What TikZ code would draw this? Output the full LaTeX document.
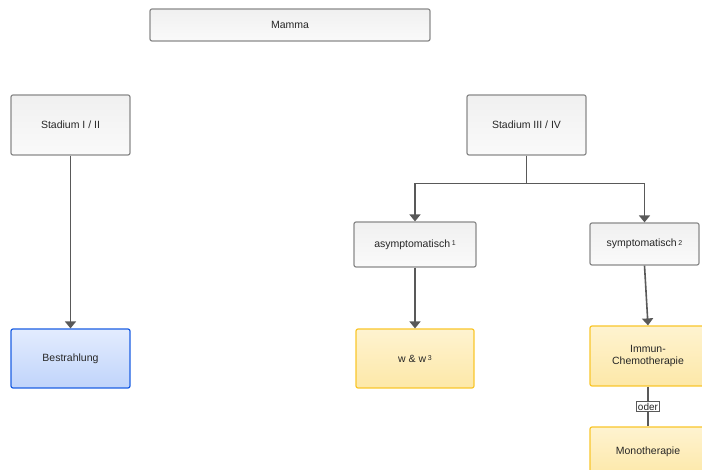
\documentclass[tikz,border=0pt]{standalone}
\usepackage{fontspec}
\setmainfont{Liberation Sans}
\usepackage{tikz}
\usetikzlibrary{positioning, arrows.meta}

\definecolor{linegray}{HTML}{595959}
\definecolor{boxgray}{HTML}{8A8A8A}
\definecolor{graytop}{HTML}{F0F0F0}
\definecolor{graybot}{HTML}{FAFAFA}
\definecolor{bluedraw}{HTML}{1C5FE3}
\definecolor{bluetop}{HTML}{E3ECFE}
\definecolor{bluebot}{HTML}{C0D4FB}
\definecolor{yellowdraw}{HTML}{F9C62B}
\definecolor{yellowtop}{HTML}{FEF3D0}
\definecolor{yellowbot}{HTML}{FDE8A8}

\newcommand{\fn}[1]{\,{\fontsize{7}{8}\selectfont\raisebox{0.45ex}{#1}}}

\begin{document}
\begin{tikzpicture}[x=1pt, y=-1pt,
    every node/.style={font=\fontsize{10.5}{12.5}\selectfont, text=black!85},
    graybox/.style={draw=boxgray, line width=1.2pt, rounded corners=2pt,
        top color=graytop, bottom color=graybot, inner sep=0pt},
    bluebox/.style={draw=bluedraw, line width=1.2pt, rounded corners=2pt,
        top color=bluetop, bottom color=bluebot, inner sep=0pt},
    yellowbox/.style={draw=yellowdraw, line width=1.2pt, rounded corners=2pt,
        top color=yellowtop, bottom color=yellowbot, inner sep=0pt, align=center},
    arr/.style={draw=linegray, line width=1.6pt, -{Triangle[width=11pt,length=7pt]}},
    link/.style={draw=linegray, line width=1.6pt}
    ]
\useasboundingbox (0,0) rectangle (702,470);

% top row
\node[graybox, minimum width=280, minimum height=32] (mamma) at (290,25) {Mamma};
\node[graybox, minimum width=119, minimum height=60] (stI) at (70.5,125) {Stadium I / II};
\node[graybox, minimum width=119, minimum height=60] (stIII) at (526.5,125) {Stadium III / IV};

% second row
\node[graybox, minimum width=122, minimum height=45] (asym) at (415,244.5) {asymptomatisch\fn{1}};
\node[graybox, minimum width=109, minimum height=42] (sym) at (644.5,244) {symptomatisch\fn{2}};

% therapies
\node[bluebox, minimum width=119, minimum height=59] (bestr) at (70.5,358.5) {Bestrahlung};
\node[yellowbox, minimum width=118, minimum height=59] (wuw) at (415,358.5) {w \& w\fn{3}};
\node[yellowbox, minimum width=116, minimum height=60] (immun) at (648,356) {Immun-\\Chemotherapie};
\node[yellowbox, minimum width=116, minimum height=50] (mono) at (648,452) {Monotherapie};

% connectors
\draw[arr] (stI) -- (bestr);
\draw[arr] (stIII.south) -- ++(0,28) -| (asym.north);
\draw[arr] (stIII.south) -- ++(0,28) -| (sym.north);
\draw[arr] (asym) -- (wuw);
\draw[arr] (sym.south) -- (immun.north);
\draw[link] (immun) -- node[draw=linegray, line width=0.9pt, fill=white, inner sep=1.3pt,
    font=\fontsize{10}{11}\selectfont] (oder) {oder} (mono);
\end{tikzpicture}
\end{document}
